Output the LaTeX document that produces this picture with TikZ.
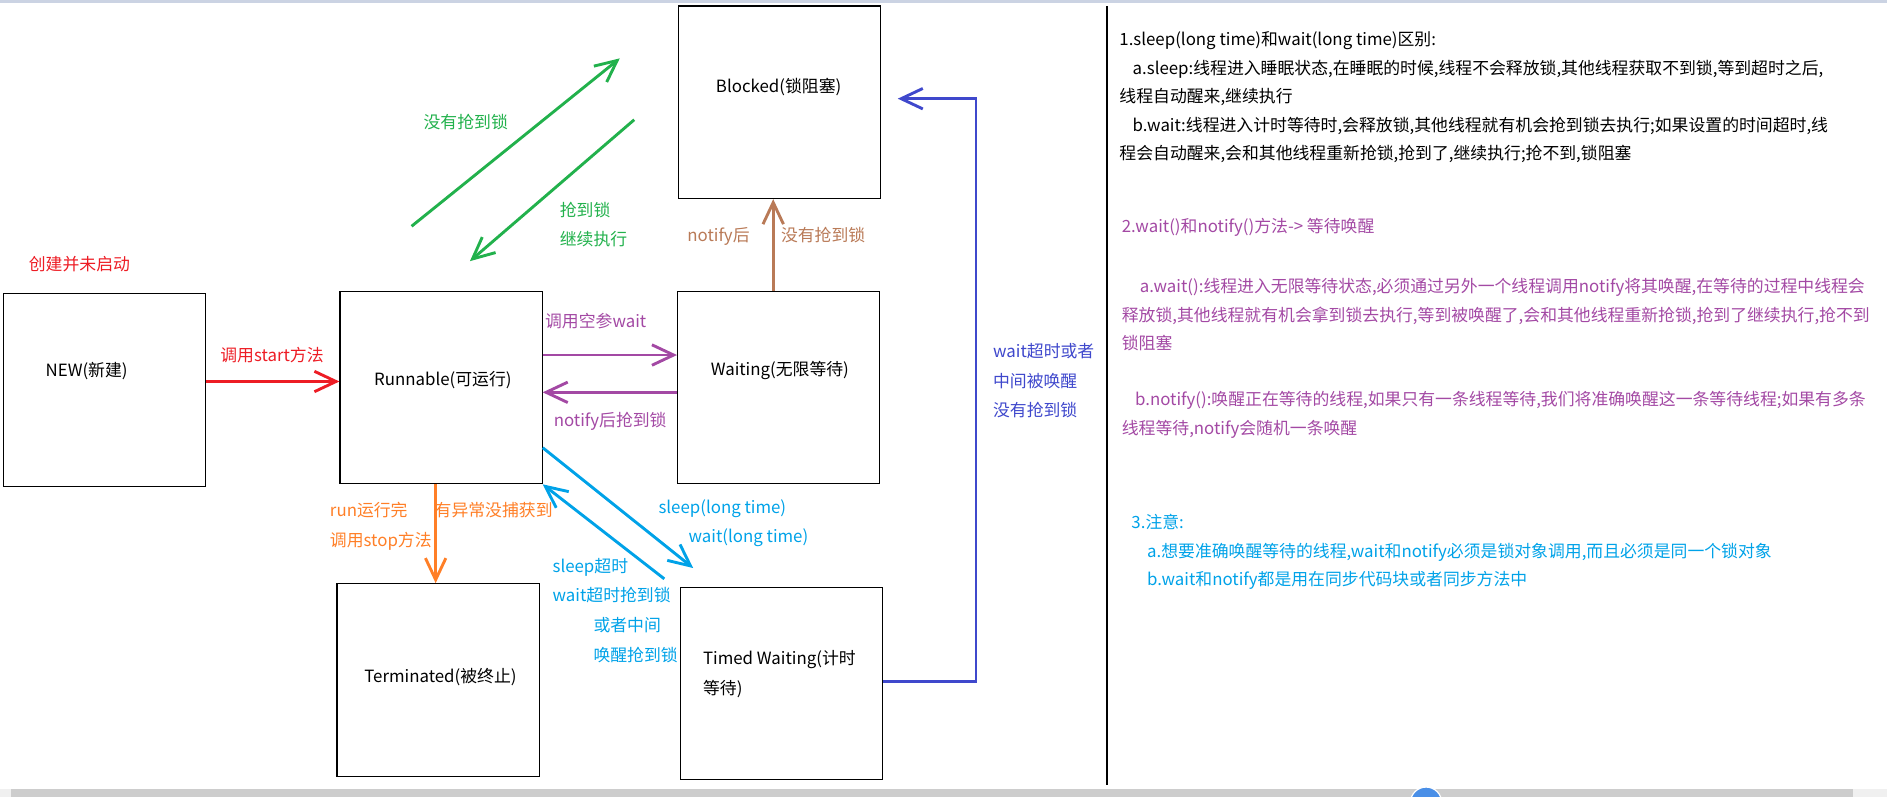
\documentclass[tikz,border=0pt]{standalone}
\usepackage{fontspec}
\setmainfont{Noto Sans CJK SC}
\usetikzlibrary{arrows.meta}
\definecolor{paintred}{HTML}{ED1C24}
\definecolor{paintgreen}{HTML}{22B14C}
\definecolor{paintbrown}{HTML}{B97A57}
\definecolor{paintpurple}{HTML}{A349A4}
\definecolor{paintorange}{HTML}{FF7F27}
\definecolor{paintcyan}{HTML}{00A2E8}
\definecolor{paintindigo}{HTML}{3F48CC}
\definecolor{stripblue}{HTML}{CBD3E3}
\definecolor{bargray}{HTML}{CDCDCD}
\definecolor{barlight}{HTML}{F0F0F0}
\definecolor{thumbblue}{HTML}{4A8FE7}
\begin{document}
\begin{tikzpicture}[x=1pt, y=-1pt,
        state/.style={rectangle, draw, line width=0.9pt, minimum width=168pt, minimum height=160pt, inner sep=0pt},
        lbl/.style={inner sep=0pt, font=\fontsize{14}{17}\selectfont, text height=11pt, text depth=3pt},
        lblw/.style={lbl, anchor=west},
        move/.style={line width=2.4pt, -{Straight Barb[length=18pt, width=17pt]}},
        notes/.style={inner sep=0pt, anchor=north west, align=left, font=\fontsize{14}{23.75}\selectfont}]
        \useasboundingbox (0,0) rectangle (1568,662);
        \fill[stripblue] (0,0) rectangle (1568,2.5);
        \fill[barlight] (0,656) rectangle (1568,662);
        \fill[bargray] (9,656) rectangle (1540,662);
        \begin{scope}
            \clip (0,0) rectangle (1568,662);
            \filldraw[fill=thumbblue, draw=white, line width=1pt] (1185,667) circle[radius=13pt];
        \end{scope}

        % states
        \node[state] (blocked) at (648,85) {};
        \node[state] (new) at (87,324) {};
        \node[state] (runnable) at (366.5,322) {};
        \node[state] (waiting) at (647,322) {};
        \node[state] (terminated) at (364,565) {};
        \node[state] (timed) at (649.5,568) {};
        \node[lbl] (blockedtext) at (647,73) {Blocked(锁阻塞)};
        \node[lbl] (newtext) at (72,309) {NEW(新建)};
        \node[lbl] (runnabletext) at (368,316) {Runnable(可运行)};
        \node[lbl] (waitingtext) at (648,308) {Waiting(无限等待)};
        \node[lbl] (terminatedtext) at (366,563) {Terminated(被终止)};
        \node[lblw] (timedtext) at (584,548) {Timed Waiting(计时};
        \node[lblw] (timedtext2) at (584,573) {等待)};

        % new -> runnable
        \node[lbl, text=paintred] (created) at (66,221) {创建并未启动};
        \draw[move, paintred] (new.east |- 0,317) -- (runnable.west |- 0,317);
        \node[lbl, text=paintred] (startlbl) at (226,296) {调用start方法};

        % runnable <-> blocked
        \coordinate (nolockstart) at (342,188);
        \coordinate (nolockend) at (515,48.5);
        \coordinate (getlockstart) at (527,99.5);
        \coordinate (getlockend) at (390.5,217);
        \draw[move, paintgreen] (nolockstart) -- (nolockend);
        \draw[move, paintgreen] (getlockstart) -- (getlockend);
        \node[lbl, text=paintgreen] (nolocklbl) at (387,102.5) {没有抢到锁};
        \node[lblw, text=paintgreen] (getlocklbl) at (465,176) {抢到锁};
        \node[lblw, text=paintgreen] (getlocklbl2) at (465,200) {继续执行};

        % waiting -> blocked
        \draw[move, paintbrown] (waiting.north -| 642.5,0) -- (blocked.south -| 642.5,0);
        \node[lbl, text=paintbrown] (notifylbl) at (597,197) {notify后};
        \node[lbl, text=paintbrown] (notifylbl2) at (684,197) {没有抢到锁};

        % runnable <-> waiting
        \draw[move, paintpurple] (runnable.east |- 0,295) -- (waiting.west |- 0,295);
        \draw[move, paintpurple] (waiting.west |- 0,326) -- (runnable.east |- 0,326);
        \node[lbl, text=paintpurple] (waitlbl) at (495,268) {调用空参wait};
        \node[lbl, text=paintpurple] (backlbl) at (507,350) {notify后抢到锁};

        % runnable -> terminated
        \draw[move, paintorange] (runnable.south -| 362,0) -- (terminated.north -| 362,0);
        \node[lblw, text=paintorange] (runlbl) at (274,425) {run运行完};
        \node[lblw, text=paintorange] (stoplbl) at (274,450) {调用stop方法};
        \node[lblw, text=paintorange] (errlbl) at (361,425) {有异常没捕获到};

        % runnable <-> timed waiting
        \coordinate (sleepend) at (576,472);
        \coordinate (wakestart) at (552,481);
        \draw[move, paintcyan] (runnable.east |- 0,372) -- (sleepend);
        \draw[move, paintcyan] (wakestart) -- (runnable.south east);
        \node[lblw, text=paintcyan] (sleeplbl) at (547,423) {sleep(long time)};
        \node[lblw, text=paintcyan] (sleeplbl2) at (572,447) {wait(long time)};
        \node[lblw, text=paintcyan] (wakelbl) at (459,472) {sleep超时};
        \node[lblw, text=paintcyan] (wakelbl2) at (459,496) {wait超时抢到锁};
        \node[lblw, text=paintcyan] (wakelbl3) at (493,521) {或者中间};
        \node[lblw, text=paintcyan] (wakelbl4) at (493,546) {唤醒抢到锁};

        % timed waiting -> blocked
        \coordinate (timeoutside) at (811,322);
        \coordinate (timeoutend) at (746,82);
        \draw[move, paintindigo] (timed.east |- 0,566) -| (timeoutside) |- (timeoutend);
        \node[lblw, text=paintindigo] (timeoutlbl) at (825,293) {wait超时或者};
        \node[lblw, text=paintindigo] (timeoutlbl2) at (825,318) {中间被唤醒};
        \node[lblw, text=paintindigo] (timeoutlbl3) at (825,342) {没有抢到锁};

        % notes
        \draw[line width=2pt] (920,5) -- (920,652);
        \node[notes] (note1) at (930,26) {1.sleep(long time)和wait(long time)区别:\\
            \hspace*{11pt}a.sleep:线程进入睡眠状态,在睡眠的时候,线程不会释放锁,其他线程获取不到锁,等到超时之后,\\
            线程自动醒来,继续执行\\
            \hspace*{11pt}b.wait:线程进入计时等待时,会释放锁,其他线程就有机会抢到锁去执行;如果设置的时间超时,线\\
            程会自动醒来,会和其他线程重新抢锁,抢到了,继续执行;抢不到,锁阻塞};
        \node[notes, text=paintpurple] (note2) at (932,181) {2.wait()和notify()方法-> 等待唤醒};
        \node[notes, text=paintpurple] (note2a) at (932,231) {\hspace*{15pt}a.wait():线程进入无限等待状态,必须通过另外一个线程调用notify将其唤醒,在等待的过程中线程会\\
            释放锁,其他线程就有机会拿到锁去执行,等到被唤醒了,会和其他线程重新抢锁,抢到了继续执行,抢不到\\
            锁阻塞};
        \node[notes, text=paintpurple] (note2b) at (932,325) {\hspace*{11pt}b.notify():唤醒正在等待的线程,如果只有一条线程等待,我们将准确唤醒这一条等待线程;如果有多条\\
            线程等待,notify会随机一条唤醒};
        \node[notes, text=paintcyan] (note3) at (940,427) {3.注意:\\
            \hspace*{13pt}a.想要准确唤醒等待的线程,wait和notify必须是锁对象调用,而且必须是同一个锁对象\\
            \hspace*{13pt}b.wait和notify都是用在同步代码块或者同步方法中};
    \end{tikzpicture}
\end{document}
